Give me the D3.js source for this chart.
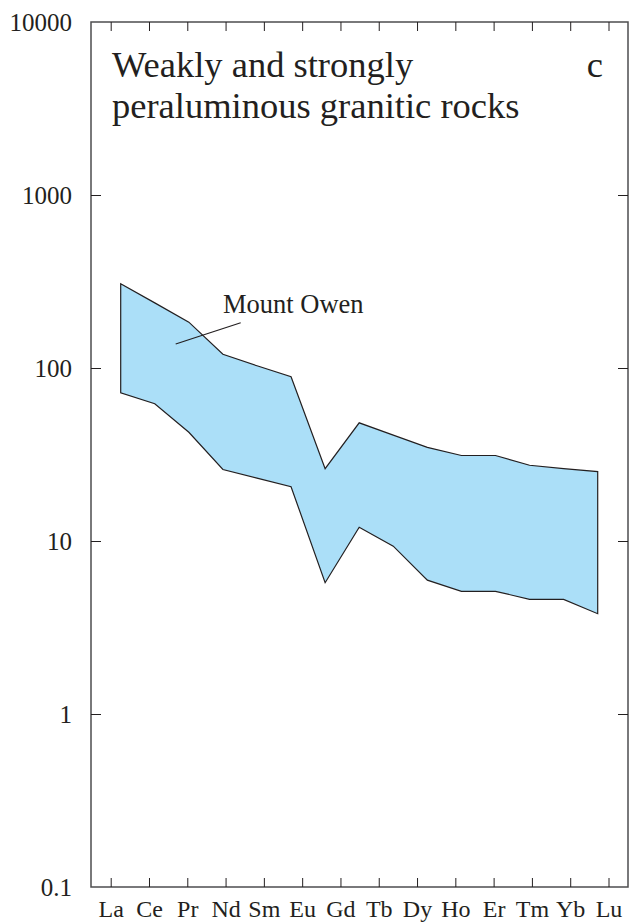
<!DOCTYPE html>
<html>
<head>
<meta charset="utf-8">
<script src="https://cdnjs.cloudflare.com/ajax/libs/d3/7.8.5/d3.min.js"></script>
<style>
  html, body { margin: 0; padding: 0; background: #fff; }
  svg { display: block; }
  text { font-family: "Liberation Serif", "Times New Roman", serif; fill: #231f20; }
</style>
</head>
<body>
<svg width="631" height="924"></svg>
<script>
let svg = d3.select("svg");

//Labelled rare earth elements along the bottom
let elements = ["La", "Ce", "Pr", "Nd", "Sm", "Eu", "Gd", "Tb", "Dy", "Ho", "Er", "Tm", "Yb", "Lu"];
//The band is plotted on the full REE sequence (with Pm gap)
let bandElements = ["La", "Ce", "Pr", "Nd", "Pm", "Sm", "Eu", "Gd", "Tb", "Dy", "Ho", "Er", "Tm", "Yb", "Lu"];
//Chondrite-normalised envelope, Mount Owen
let upperValues = [307, 238, 184, 120, 103, 89, 26.2, 48.2, 40.9, 34.8, 31.2, 31.2, 27.4, 26.2, 25.2];
let lowerValues = [71.8, 62.1, 42.5, 25.9, 23.1, 20.6, 5.74, 12.0, 9.34, 5.94, 5.12, 5.12, 4.6, 4.6, 3.8];

let yTicks = [0.1, 1, 10, 100, 1000, 10000];
let yTickLabels = ["0.1", "1", "10", "100", "1000", "10000"];

let frameL = 91, frameR = 628, frameT = 22, frameB = 887;
let bandColor = "#abdff8";

let y = d3.scaleLog()
    .domain([0.1, 10000])
    .range([frameB, frameT]);

let xLabel = d3.scalePoint()
    .domain(elements)
    .range([110.7, 608.5]);

let xBand = d3.scalePoint()
    .domain(bandElements)
    .range([120.7, 597.7]);

let band = bandElements.map((el, i) => ({el: el, lo: lowerValues[i], hi: upperValues[i]}));

let area = d3.area()
    .x(d => xBand(d.el))
    .y0(d => y(d.lo))
    .y1(d => y(d.hi));

svg.append("path")
    .datum(band)
    .attr("d", area)
    .attr("fill", bandColor)
    .attr("stroke", "#231f20")
    .attr("stroke-width", 1.2)
    .attr("stroke-linejoin", "miter");

//Frame
svg.append("rect")
    .attr("x", frameL)
    .attr("y", frameT)
    .attr("width", frameR - frameL)
    .attr("height", frameB - frameT)
    .attr("fill", "none")
    .attr("stroke", "#4d4d4f")
    .attr("stroke-width", 1.5);

//Element ticks on top (down) and bottom (up)
let tickLen = 9;
let axisBottom = d3.axisBottom(xLabel).tickSizeInner(-tickLen).tickSizeOuter(0).tickPadding(12.5);
let gx = svg.append("g")
    .attr("transform", "translate(0," + frameB + ")")
    .call(axisBottom);
gx.select(".domain").remove();
gx.selectAll("line").attr("stroke", "#231f20").attr("stroke-width", 1);
gx.selectAll("text")
    .attr("font-size", "24px")
    .attr("fill", "#231f20");

let axisTop = d3.axisTop(xLabel).tickSizeInner(-tickLen).tickSizeOuter(0).tickFormat("");
let gxt = svg.append("g")
    .attr("transform", "translate(0," + frameT + ")")
    .call(axisTop);
gxt.select(".domain").remove();
gxt.selectAll("line").attr("stroke", "#231f20").attr("stroke-width", 1);

//Log axis: left with labels, right with ticks only
let axisLeft = d3.axisLeft(y)
    .tickValues(yTicks)
    .tickSizeInner(-10)
    .tickSizeOuter(0)
    .tickPadding(19)
    .tickFormat((d, i) => yTickLabels[i]);
let gy = svg.append("g")
    .attr("transform", "translate(" + frameL + ",0)")
    .call(axisLeft);
gy.select(".domain").remove();
gy.selectAll("line")
    .attr("stroke", "#231f20")
    .attr("display", d => (d === 0.1 || d === 10000) ? "none" : null);
gy.selectAll("text")
    .attr("font-size", "25px")
    .attr("fill", "#231f20");

let axisRight = d3.axisRight(y)
    .tickValues(yTicks.slice(1, -1))
    .tickSizeInner(-10)
    .tickSizeOuter(0)
    .tickFormat("");
let gyr = svg.append("g")
    .attr("transform", "translate(" + frameR + ",0)")
    .call(axisRight);
gyr.select(".domain").remove();
gyr.selectAll("line").attr("stroke", "#231f20");

//Title and panel letter
let title = svg.append("text")
    .attr("font-size", "36.5px");
title.append("tspan").attr("x", 112).attr("y", 77).text("Weakly and strongly");
title.append("tspan").attr("x", 112).attr("y", 118).text("peraluminous granitic rocks");

svg.append("text")
    .attr("x", 603)
    .attr("y", 77)
    .attr("text-anchor", "end")
    .attr("font-size", "36.5px")
    .text("c");

//Mount Owen annotation with leader line
svg.append("text")
    .attr("x", 223)
    .attr("y", 313)
    .attr("font-size", "26.5px")
    .text("Mount Owen");

svg.append("line")
    .attr("x1", 240.7).attr("y1", 322.7)
    .attr("x2", 175.7).attr("y2", 344)
    .attr("stroke", "#231f20")
    .attr("stroke-width", 1.2);
</script>
</body>
</html>
